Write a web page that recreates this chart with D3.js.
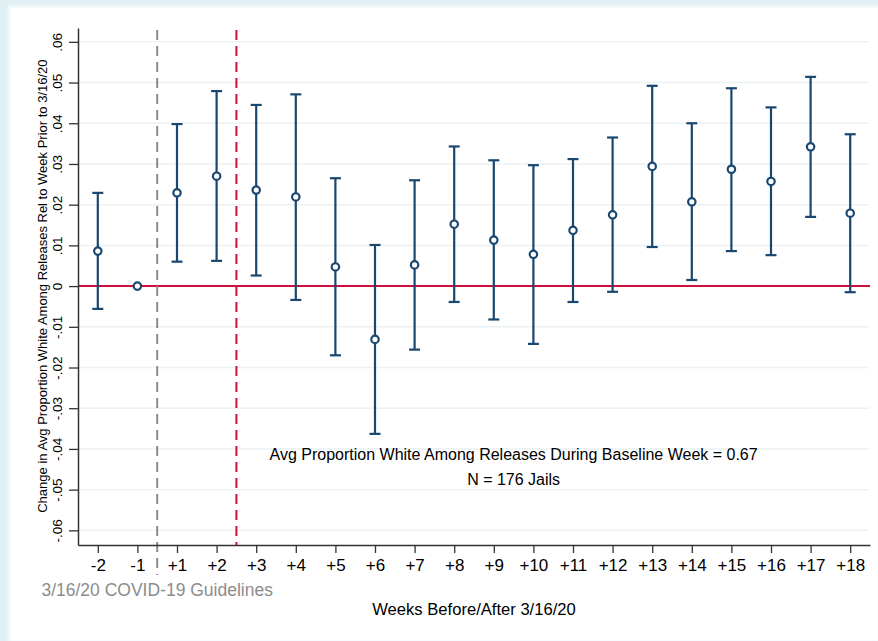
<!DOCTYPE html>
<html>
<head>
<meta charset="utf-8">
<script src="https://cdn.jsdelivr.net/npm/d3@7"></script>
<style>
  html, body { margin: 0; padding: 0; background: #dfeff4; }
  svg { display: block; font-family: "Liberation Sans", Arial, sans-serif; }
</style>
</head>
<body>
<div id="chart"></div>
<script>
// week labels and estimates
const weeks = ["-2", "-1", "+1", "+2", "+3", "+4", "+5", "+6", "+7", "+8", "+9",
  "+10", "+11", "+12", "+13", "+14", "+15", "+16", "+17", "+18"];
const est   = [.0086, 0, .0229, .0270, .0236, .0219, .0047, -.0131, .0052, .0152, .0113,
  .0078, .0137, .0175, .0294, .0207, .0287, .0257, .0342, .0179];
const lower = [-.0056, null, .0060, .0062, .0026, -.0034, -.0170, -.0363, -.0156, -.0039, -.0082,
  -.0142, -.0039, -.0014, .0096, .0015, .0086, .0076, .0170, -.0015];
const upper = [.0229, null, .0398, .0479, .0445, .0471, .0265, .0101, .0260, .0343, .0309,
  .0297, .0312, .0365, .0492, .0400, .0486, .0439, .0514, .0373];
const yTicks = [.06, .05, .04, .03, .02, .01, 0, -.01, -.02, -.03, -.04, -.05, -.06];
const noteLines = ["Avg Proportion White Among Releases During Baseline Week = 0.67", "N = 176 Jails"];

const data = weeks.map((w, i) => ({i: i, week: w, est: est[i], lo: lower[i], hi: upper[i]}));

const width = 878;
const height = 641;
const margin = {top: 28, right: 8, bottom: 96, left: 78};

const navy = "#1a476f";
const red = "#d0103a";

const x = d3.scaleLinear()
    .domain([-0.5, weeks.length - 0.5])
    .range([margin.left, width - margin.right]);

const y = d3.scaleLinear()
    .domain([-0.0636, 0.0634])
    .range([height - margin.bottom, margin.top]);

const svg = d3.select("#chart").append("svg")
    .attr("width", width)
    .attr("height", height);

// white panel with a faint border
svg.append("rect")
    .attr("x", 9).attr("y", 6)
    .attr("width", width - 8).attr("height", height - 5)
    .attr("fill", "#fff")
    .attr("stroke", "#eef6f8")
    .attr("stroke-width", 3);

// grid lines
svg.append("g")
  .selectAll("line")
  .data(yTicks.filter(t => t !== 0))
  .join("line")
    .attr("x1", margin.left).attr("x2", width - margin.right - 1)
    .attr("y1", d => y(d)).attr("y2", d => y(d))
    .attr("stroke", "#eaf2f4")
    .attr("stroke-width", 1.5);

// zero line
svg.append("line")
    .attr("x1", margin.left).attr("x2", width - margin.right)
    .attr("y1", y(0)).attr("y2", y(0))
    .attr("stroke", red)
    .attr("stroke-width", 2);

// guideline (between -1 and +1) and red line (between +2 and +3)
svg.append("line")
    .attr("x1", x(1.5)).attr("x2", x(1.5))
    .attr("y1", margin.top + 2).attr("y2", height - margin.bottom + 30)
    .attr("stroke", "#8c8c8c")
    .attr("stroke-width", 2)
    .attr("stroke-dasharray", "10 6");

svg.append("line")
    .attr("x1", x(3.5)).attr("x2", x(3.5))
    .attr("y1", margin.top + 2).attr("y2", height - margin.bottom)
    .attr("stroke", red)
    .attr("stroke-width", 2)
    .attr("stroke-dasharray", "10 6");

// axes
const xAxis = g => g
    .attr("transform", `translate(0,${height - margin.bottom})`)
    .call(d3.axisBottom(x).tickValues(d3.range(weeks.length)).tickFormat(i => weeks[i])
      .tickSize(8).tickSizeOuter(0).tickPadding(6))
    .call(g => g.select(".domain").attr("stroke", "#333").attr("stroke-width", 1.5))
    .call(g => g.selectAll(".tick line").attr("stroke", "#333").attr("stroke-width", 1.3))
    .call(g => g.selectAll(".tick text").attr("font-size", 17).attr("fill", "#000")
      .attr("font-family", "Liberation Sans, Arial, sans-serif"));

const yAxis = g => g
    .attr("transform", `translate(${margin.left},0)`)
    .call(d3.axisLeft(y).tickValues(yTicks)
      .tickFormat(d => d === 0 ? "0" : d3.format(".2f")(d).replace("0.", ".").replace("\u2212", "-"))
      .tickSize(9).tickSizeOuter(0))
    .call(g => g.select(".domain").attr("stroke", "#333").attr("stroke-width", 1.5))
    .call(g => g.selectAll(".tick line").attr("stroke", "#333").attr("stroke-width", 1.3))
    .call(g => g.selectAll(".tick text")
      .attr("x", null).attr("dy", null)
      .attr("transform", "translate(-16,0) rotate(-90)")
      .attr("text-anchor", "middle")
      .attr("font-size", 13.5).attr("fill", "#000")
      .attr("font-family", "Liberation Sans, Arial, sans-serif"));

svg.append("g").call(xAxis);
svg.append("g").call(yAxis);

// error bars
const bars = svg.append("g")
  .selectAll("g")
  .data(data.filter(d => d.lo !== null))
  .join("g")
    .attr("stroke", navy)
    .attr("stroke-width", 2.2);

bars.append("line")
    .attr("x1", d => x(d.i)).attr("x2", d => x(d.i))
    .attr("y1", d => y(d.lo)).attr("y2", d => y(d.hi));
bars.append("line")
    .attr("x1", d => x(d.i) - 5.5).attr("x2", d => x(d.i) + 5.5)
    .attr("y1", d => y(d.hi)).attr("y2", d => y(d.hi));
bars.append("line")
    .attr("x1", d => x(d.i) - 5.5).attr("x2", d => x(d.i) + 5.5)
    .attr("y1", d => y(d.lo)).attr("y2", d => y(d.lo));

// point estimates
svg.append("g")
  .selectAll("circle")
  .data(data)
  .join("circle")
    .attr("cx", d => x(d.i))
    .attr("cy", d => y(d.est))
    .attr("r", 3.7)
    .attr("fill", "#fff")
    .attr("stroke", navy)
    .attr("stroke-width", 2.2);

// note text
svg.append("g")
  .selectAll("text")
  .data(noteLines)
  .join("text")
    .attr("x", x(10.5))
    .attr("y", (d, i) => y(-0.0428) + i * 25)
    .attr("text-anchor", "middle")
    .attr("font-size", 16)
    .attr("fill", "#000")
    .text(d => d);

// guideline label
svg.append("text")
    .attr("x", x(1.5))
    .attr("y", 596)
    .attr("text-anchor", "middle")
    .attr("font-size", 17.5)
    .attr("fill", "#8c8c8c")
    .text("3/16/20 COVID-19 Guidelines");

// axis titles
svg.append("text")
    .attr("x", (margin.left + width - margin.right) / 2)
    .attr("y", 615)
    .attr("text-anchor", "middle")
    .attr("font-size", 16.6)
    .attr("fill", "#000")
    .text("Weeks Before/After 3/16/20");

svg.append("text")
    .attr("transform", `translate(47,${y(0)}) rotate(-90)`)
    .attr("text-anchor", "middle")
    .attr("font-size", 13)
    .attr("fill", "#000")
    .text("Change in Avg Proportion White Among Releases Rel to Week Prior to 3/16/20");
</script>
</body>
</html>
